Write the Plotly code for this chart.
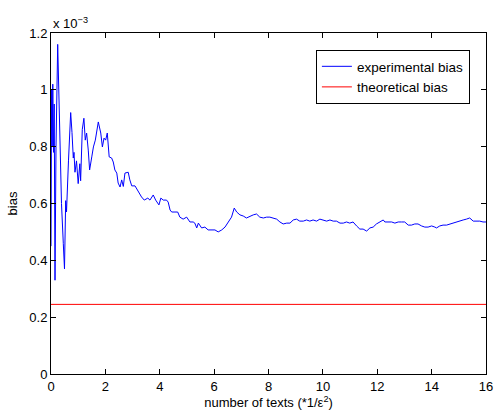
import plotly.graph_objects as go

# experimental bias (units of 1e-3) vs number of texts (*1/eps^2)
exp_x = [0.00, 0.007, 0.022, 0.044, 0.066, 0.092, 0.118, 0.147, 0.184, 0.246, 0.276, 0.331, 0.386,
         0.452, 0.496, 0.540, 0.570, 0.643, 0.724, 0.772, 0.820, 0.846, 0.882, 0.938, 1.00, 1.06,
         1.09, 1.15, 1.21, 1.26, 1.31, 1.37, 1.42, 1.50, 1.56, 1.63, 1.74, 1.83, 1.89, 1.95, 2.01,
         2.07, 2.14, 2.23, 2.29, 2.35, 2.42, 2.47, 2.54, 2.60, 2.66, 2.72, 2.84, 2.90, 2.97, 3.09,
         3.21, 3.33, 3.43, 3.56, 3.64, 3.76, 3.85, 3.97, 4.04, 4.13, 4.25, 4.31, 4.38, 4.44, 4.56,
         4.66, 4.74, 4.86, 4.99, 5.11, 5.23, 5.29, 5.36, 5.42, 5.54, 5.66, 5.78, 5.91, 6.03, 6.15,
         6.28, 6.40, 6.52, 6.64, 6.74, 6.83, 6.95, 7.07, 7.19, 7.32, 7.44, 7.56, 7.68, 7.81, 7.93,
         8.05, 8.17, 8.30, 8.42, 8.54, 8.67, 8.79, 8.91, 9.03, 9.15, 9.28, 9.40, 9.52, 9.64, 9.77,
         9.89, 10.01, 10.14, 10.26, 10.38, 10.50, 10.63, 10.75, 10.87, 10.99, 11.11, 11.24, 11.36,
         11.48, 11.61, 11.73, 11.85, 11.97, 12.10, 12.22, 12.28, 12.40, 12.53, 12.65, 12.77, 12.89,
         13.01, 13.14, 13.26, 13.38, 13.50, 13.63, 13.75, 13.87, 14.00, 14.12, 14.18, 14.30, 14.42,
         14.55, 14.67, 14.79, 14.92, 15.04, 15.16, 15.28, 15.40, 15.53, 15.65, 15.77, 15.89, 16.00]
exp_bias = [0.45, 0.60, 1.00, 0.80, 1.02, 0.78, 0.95, 0.33, 0.80, 1.16, 1.05, 0.80, 0.60,
            0.46, 0.37, 0.61, 0.57, 0.75, 0.92, 0.85, 0.76, 0.78, 0.71, 0.75, 0.67, 0.74,
            0.68, 0.86, 0.90, 0.823, 0.848, 0.788, 0.718, 0.764, 0.799, 0.823, 0.887, 0.848, 0.799, 0.830, 0.823,
            0.848, 0.764, 0.760, 0.746, 0.718, 0.707, 0.672, 0.658, 0.683, 0.660, 0.707, 0.710, 0.683, 0.662, 0.662,
            0.640, 0.623, 0.612, 0.619, 0.612, 0.630, 0.612, 0.595, 0.619, 0.612, 0.612, 0.605, 0.577, 0.570, 0.570,
            0.570, 0.552, 0.545, 0.552, 0.535, 0.535, 0.531, 0.514, 0.531, 0.514, 0.517, 0.507, 0.507, 0.507, 0.500,
            0.507, 0.517, 0.535, 0.552, 0.584, 0.570, 0.560, 0.556, 0.549, 0.556, 0.560, 0.563, 0.552, 0.549, 0.552,
            0.552, 0.549, 0.545, 0.535, 0.528, 0.531, 0.531, 0.542, 0.545, 0.538, 0.538, 0.542, 0.538, 0.542, 0.538,
            0.545, 0.542, 0.538, 0.542, 0.538, 0.538, 0.531, 0.531, 0.535, 0.531, 0.535, 0.521, 0.510,
            0.510, 0.503, 0.514, 0.517, 0.528, 0.535, 0.542, 0.535, 0.535, 0.535, 0.531, 0.535, 0.535,
            0.535, 0.524, 0.524, 0.528, 0.528, 0.521, 0.517, 0.517, 0.521, 0.517, 0.514, 0.521, 0.524,
            0.524, 0.528, 0.531, 0.535, 0.538, 0.542, 0.545, 0.549, 0.538, 0.538, 0.538, 0.535, 0.535]

theo_x = [0, 16]
theo_bias = [0.245, 0.245]

x_ticks = [0, 2, 4, 6, 8, 10, 12, 14, 16]
y_ticks = [0, 0.2, 0.4, 0.6, 0.8, 1.0, 1.2]
y_ticklabels = ["0", "0.2", "0.4", "0.6", "0.8", "1", "1.2"]

fam = "Liberation Sans, Arial, Helvetica, sans-serif"
font = dict(family=fam, size=13, color="black")
legend_font = dict(family=fam, size=13.5, color="black")

fig = go.Figure()
fig.add_trace(go.Scatter(x=exp_x, y=exp_bias, mode="lines", name="experimental bias",
                         line=dict(color="#0000ff", width=1)))
fig.add_trace(go.Scatter(x=theo_x, y=theo_bias, mode="lines", name="theoretical bias",
                         line=dict(color="#ff0000", width=1)))

axis_common = dict(showline=True, linecolor="black", linewidth=1, mirror="ticks",
                   ticks="inside", ticklen=5, tickcolor="black", showgrid=False,
                   zeroline=False, tickfont=font, automargin=False,
                   ticklabeloverflow="allow")

fig.update_layout(
    width=494, height=413,
    margin=dict(l=51, r=8, t=33, b=39),
    paper_bgcolor="white", plot_bgcolor="white",
    font=font,
    xaxis=dict(range=[0, 16], tickvals=x_ticks,
               title=dict(text="number of texts (*1/ε<sup>2</sup>)", font=font, standoff=2),
               **axis_common),
    yaxis=dict(range=[0, 1.2], tickvals=y_ticks, ticktext=y_ticklabels,
               title=dict(text="bias", font=font, standoff=8),
               **axis_common),
    legend=dict(x=0.963, y=0.95, xanchor="right", yanchor="top",
                bgcolor="white", bordercolor="black", borderwidth=1,
                font=legend_font, tracegroupgap=0),
    showlegend=True,
    annotations=[dict(text="x 10<sup>−3</sup>", xref="paper", yref="paper", x=0.0, y=1.0,
                      xanchor="left", yanchor="bottom", showarrow=False, font=font)],
)

fig.write_html("out.html", config={"displayModeBar": False},
               post_script="document.body.style.margin='0';")
